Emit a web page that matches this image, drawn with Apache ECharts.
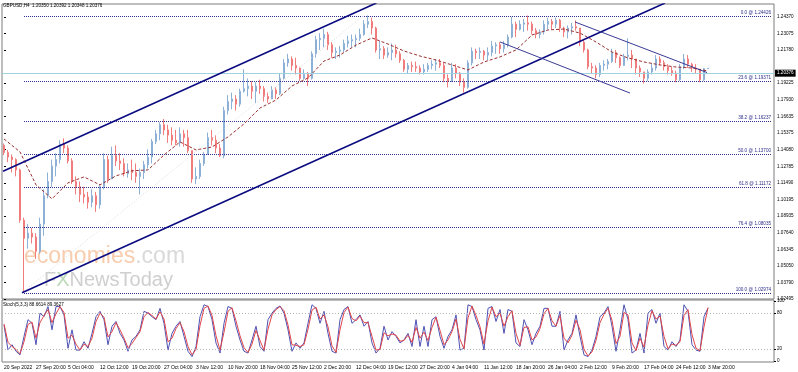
<!DOCTYPE html>
<html><head><meta charset="utf-8">
<script src="https://cdn.jsdelivr.net/npm/echarts@6/dist/echarts.min.js"></script>
<style>html,body{margin:0;padding:0;background:#fff}#c{width:798px;height:372px}</style>
</head><body><div id="c"></div>
<script>
const symbol = 'GBPUSD', timeframe = 'H4';
const firstOpen = 1.1440;
const closes = [1.1385,1.1350,1.1330,1.1250,1.0860,1.0720,1.0760,1.0730,1.0620,1.0830,
1.1050,1.1160,1.1280,1.1330,1.1450,1.1420,1.1320,1.1160,1.1120,1.1060,
1.1040,1.1000,1.1050,1.0980,1.1120,1.1330,1.1180,1.1360,1.1320,1.1300,
1.1220,1.1250,1.1230,1.1200,1.1230,1.1290,1.1350,1.1470,1.1530,1.1600,
1.1560,1.1520,1.1480,1.1460,1.1530,1.1500,1.1400,1.1180,1.1200,1.1300,
1.1370,1.1500,1.1480,1.1420,1.1360,1.1710,1.1780,1.1800,1.1760,1.1860,
1.1880,1.1900,1.1860,1.1900,1.1880,1.1820,1.1800,1.1870,1.1840,1.1960,
1.2080,1.2110,1.2060,1.2040,1.1960,1.1990,1.1960,1.2150,1.2260,1.2270,
1.2300,1.2220,1.2160,1.2170,1.2180,1.2230,1.2250,1.2260,1.2270,1.2300,
1.2380,1.2400,1.2350,1.2180,1.2190,1.2140,1.2160,1.2180,1.2150,1.2100,
1.2030,1.2060,1.2050,1.2040,1.2010,1.2030,1.2060,1.2070,1.2080,1.2060,
1.1960,1.1940,1.2040,1.2000,1.1930,1.1890,1.2080,1.2170,1.2160,1.2170,
1.2140,1.2160,1.2210,1.2220,1.2190,1.2220,1.2280,1.2380,1.2340,1.2380,
1.2390,1.2380,1.2330,1.2300,1.2320,1.2380,1.2400,1.2380,1.2410,1.2350,
1.2320,1.2350,1.2360,1.2350,1.2240,1.2180,1.2050,1.2040,1.1990,1.2060,
1.2070,1.2090,1.2160,1.2120,1.2060,1.2130,1.2140,1.2110,1.2040,1.2010,
1.1960,1.2010,1.2040,1.2110,1.2080,1.2050,1.2020,1.2000,1.1950,1.2050,
1.2110,1.2070,1.2040,1.2030,1.1950,1.2035,1.20376];
const highs = [1.1455,1.1405,1.1370,1.1340,1.1260,1.0880,1.0830,1.0800,1.0760,1.0880,
1.1100,1.1230,1.1330,1.1380,1.1480,1.1495,1.1440,1.1340,1.1200,1.1160,
1.1120,1.1080,1.1100,1.1080,1.1140,1.1380,1.1360,1.1430,1.1440,1.1380,
1.1340,1.1300,1.1330,1.1300,1.1260,1.1320,1.1410,1.1490,1.1560,1.1620,
1.1645,1.1600,1.1580,1.1560,1.1580,1.1560,1.1560,1.1400,1.1270,1.1330,
1.1390,1.1540,1.1560,1.1520,1.1450,1.1740,1.1830,1.1850,1.1830,1.1880,
1.2030,1.1960,1.1940,1.1930,1.1950,1.1900,1.1850,1.1900,1.1890,1.2000,
1.2110,1.2150,1.2130,1.2120,1.2050,1.2030,1.2010,1.2170,1.2290,1.2310,
1.2345,1.2320,1.2240,1.2200,1.2210,1.2260,1.2290,1.2300,1.2300,1.2345,
1.2410,1.2447,1.2430,1.2360,1.2250,1.2210,1.2200,1.2230,1.2220,1.2170,
1.2110,1.2080,1.2090,1.2090,1.2060,1.2070,1.2080,1.2100,1.2110,1.2110,
1.2080,1.1990,1.2080,1.2070,1.2010,1.1960,1.2100,1.2200,1.2190,1.2200,
1.2180,1.2200,1.2250,1.2240,1.2240,1.2250,1.2300,1.2436,1.2400,1.2410,
1.2420,1.2447,1.2400,1.2350,1.2340,1.2410,1.2430,1.2420,1.2430,1.2420,
1.2360,1.2370,1.2390,1.2410,1.2350,1.2260,1.2190,1.2080,1.2060,1.2080,
1.2100,1.2110,1.2190,1.2180,1.2130,1.2150,1.2270,1.2180,1.2110,1.2060,
1.2010,1.2030,1.2080,1.2140,1.2130,1.2100,1.2070,1.2050,1.2020,1.2070,
1.2150,1.2140,1.2080,1.2070,1.2030,1.2040,1.20392];
const lows = [1.1365,1.1310,1.1230,1.1200,1.0840,1.0300,1.0640,1.0680,1.0560,1.0600,
1.0740,1.1030,1.1120,1.1200,1.1300,1.1380,1.1300,1.1140,1.1060,1.1000,
1.0990,1.0950,1.0960,1.0925,1.0950,1.1100,1.1150,1.1180,1.1280,1.1250,
1.1200,1.1190,1.1170,1.1150,1.1060,1.1180,1.1260,1.1300,1.1450,1.1480,
1.1520,1.1460,1.1440,1.1440,1.1430,1.1430,1.1380,1.1150,1.1140,1.1180,
1.1280,1.1370,1.1440,1.1380,1.1350,1.1340,1.1680,1.1720,1.1710,1.1740,
1.1850,1.1820,1.1800,1.1770,1.1840,1.1780,1.1770,1.1800,1.1800,1.1830,
1.1950,1.2050,1.2020,1.1990,1.1940,1.1950,1.1900,1.1950,1.2120,1.2180,
1.2200,1.2180,1.2120,1.2110,1.2120,1.2160,1.2200,1.2200,1.2200,1.2250,
1.2290,1.2350,1.2300,1.2160,1.2110,1.2110,1.2120,1.2100,1.2120,1.2080,
1.2010,1.2000,1.2010,1.2010,1.1990,1.1990,1.2010,1.2030,1.2020,1.2040,
1.1930,1.1890,1.1930,1.1960,1.1900,1.1850,1.1880,1.2060,1.2110,1.2110,
1.2100,1.2100,1.2130,1.2150,1.2150,1.2160,1.2200,1.2270,1.2280,1.2330,
1.2320,1.2330,1.2300,1.2270,1.2270,1.2300,1.2340,1.2340,1.2350,1.2320,
1.2280,1.2270,1.2300,1.2330,1.2210,1.2160,1.2030,1.2000,1.1960,1.1970,
1.2020,1.2030,1.2080,1.2080,1.2040,1.2060,1.2100,1.2040,1.1990,1.1970,
1.1920,1.1940,1.1990,1.2020,1.2060,1.2020,1.1990,1.1980,1.1930,1.1940,
1.2030,1.2040,1.2010,1.2000,1.1930,1.1940,1.20348];
// moving average, read every 4th candle
const maValues = [1.1490,1.1390,1.1134,1.1026,1.1150,1.1196,1.1134,1.1204,1.1243,1.1250,
1.1366,1.1467,1.1405,1.1428,1.1506,1.1607,1.1730,1.1792,1.1901,1.1963,
1.2094,1.2141,1.2218,1.2273,1.2226,1.2172,1.2133,1.2102,1.2064,1.2025,
1.2087,1.2126,1.2180,1.2296,1.2335,1.2342,1.2311,1.2242,1.2164,1.2118,
1.2087,1.2064,1.2048,1.2040,1.2017];
const stochMain = [60,18,27,16,10,41,69,63,27,80,
74,91,52,91,91,77,21,52,18,18,
32,21,46,74,83,69,27,58,66,46,
35,16,35,41,52,83,80,74,69,88,
63,18,46,58,66,41,16,7,24,74,
94,91,69,30,13,63,91,88,58,35,
16,13,35,58,24,16,69,80,88,92,
80,52,16,30,21,30,63,94,88,63,
83,46,16,13,69,86,91,63,69,77,
58,66,30,13,21,58,35,49,41,30,
35,46,24,69,24,58,24,69,74,41,
21,41,52,77,18,21,94,91,69,52,
18,88,91,66,86,46,86,83,30,24,
69,52,27,46,58,88,88,58,58,83,
18,35,46,77,41,10,7,18,41,74,
80,91,58,16,52,94,69,13,18,46,
13,80,86,63,80,24,18,32,24,35,
94,83,27,18,16,74,88.6614];
const stochSignal = [62,31,24,19,12,32,61,65,38,64,
76,86,64,79,91,81,38,43,28,18,
28,24,38,66,80,73,40,49,64,52,
38,22,29,39,49,74,81,76,70,82,
70,32,38,54,64,49,24,10,19,59,
88,92,76,42,18,48,83,89,67,42,
22,14,28,51,34,18,53,77,86,91,
84,60,27,26,24,27,53,85,90,70,
77,57,25,14,52,81,90,71,67,75,
64,64,41,18,19,47,42,45,43,33,
34,43,31,56,38,48,34,56,73,51,
27,35,49,70,36,20,72,92,76,57,
28,67,90,74,80,58,74,84,46,26,
56,57,35,40,54,79,88,67,58,76,
38,30,43,68,52,19,8,15,34,64,
78,88,68,29,41,81,77,30,17,38,
23,60,84,70,75,41,20,28,26,32,
76,86,44,21,17,57,89.3627];
const timeLabels = ['20 Sep 2022','27 Sep 20:00','5 Oct 04:00','12 Oct 12:00','19 Oct 20:00','27 Oct 04:00','3 Nov 12:00','10 Nov 20:00','18 Nov 04:00','25 Nov 12:00','2 Dec 20:00','12 Dec 04:00','19 Dec 12:00','27 Dec 20:00','4 Jan 04:00','11 Jan 12:00','18 Jan 20:00','26 Jan 04:00','2 Feb 12:00','9 Feb 20:00','17 Feb 04:00','24 Feb 12:00','3 Mar 20:00'];
const priceTicks = [1.24370,1.23075,1.21780,1.19225,1.17930,1.16635,1.15375,1.14080,1.12785,1.11490,1.10195,1.08935,1.07640,1.06345,1.05050,1.03790,1.02495];
const stochTicks = [100,80,20,0];
const stochLevels = [80,20];
const fibLevels = [0.0,23.6,38.2,50.0,61.8,76.4,100.0];
const fibPrices = [1.24426,1.19371,1.16237,1.13700,1.11172,1.08035,1.02974];
// drawn objects: [candle index, price] anchors
const fibAnchorIndex = 5;
const channelUpper = [[-0.25,1.1240],[93.1,1.2544]];
const channelLower = [[4.5,1.0298],[165.25,1.2544]];
const descUpper = [[142.75,1.2397],[175.75,1.2005]];
const descLower = [[124.0,1.2242],[156.5,1.1846]];
const fibDiagonal = [[4.5,1.02974],[89.75,1.24426]];

const FONT = 'Liberation Sans';
const FS = 4.6;
const slotCount = 193;
const N = closes.length;
const opens = closes.map((c,i)=> i===0 ? firstOpen : closes[i-1]);
const candleData = closes.map((c,i)=>[opens[i], c, lows[i], highs[i]]);
const cats = Array.from({length:slotCount},(_,i)=> (i%8===0 && i/8 < timeLabels.length) ? timeLabels[i/8] : '');
const last = N-1;
const fmt5 = v=>v.toFixed(5);
const titleText = symbol+','+timeframe+'  '+fmt5(opens[last])+' '+fmt5(highs[last])+' '+fmt5(lows[last])+' '+fmt5(closes[last]);
const stochText = 'Stoch(5,3,3) '+stochMain[last].toFixed(4)+' '+stochSignal[last].toFixed(4);
const fibColor = '#2e2e8c';
const fibData = fibPrices.map((p,k)=>[
  {coord:[fibAnchorIndex,p], lineStyle:{color:fibColor,type:[1,1],width:1},
   label:{show:true,position:'insideEndTop',distance:1,color:fibColor,fontSize:FS,fontFamily:FONT,
          formatter: fibLevels[k].toFixed(1)+' @ '+fmt5(p)}},
  {coord:[slotCount-1,p]}
]);
const priceLine = {yAxis: closes[last], lineStyle:{color:'#9fd3e0',type:'solid',width:1},
  label:{show:true,position:'end',distance:1,formatter:fmt5(closes[last]),color:'#fff',backgroundColor:'#000',
         padding:[1,2,1,2],fontSize:FS,fontFamily:FONT}};

function seg(pts,color,width,type){
  return {type:'line',xAxisIndex:2,yAxisIndex:0,data:pts,symbol:'none',showSymbol:false,silent:true,
    lineStyle:{color:color,width:width,type:type||'solid'},z:6,clip:true};
}

const chart = echarts.init(document.getElementById('c'), null, {renderer:'canvas',width:798,height:372});
chart.setOption({
  animation:false,
  backgroundColor:'#fff',
  textStyle:{fontFamily:FONT},
  grid:[
    {left:2,top:4,width:772,height:295,show:true,borderColor:'#7d7d7d',borderWidth:1,containLabel:false,outerBoundsMode:'none'},
    {left:2,top:300,width:772,height:62,show:true,borderColor:'#7d7d7d',borderWidth:1,containLabel:false,outerBoundsMode:'none'}
  ],
  xAxis:[
    {type:'category',gridIndex:0,data:cats,boundaryGap:true,axisLine:{show:false},axisTick:{show:false},axisLabel:{show:false},splitLine:{show:false}},
    {type:'category',gridIndex:1,data:cats,boundaryGap:true,axisLine:{show:false},axisTick:{show:false},splitLine:{show:false},
      axisLabel:{show:true,interval:0,align:'left',fontSize:FS+0.4,color:'#000',margin:3,fontFamily:FONT}},
    {type:'value',gridIndex:0,min:-0.5,max:slotCount-0.5,show:false}
  ],
  yAxis:[
    {type:'value',gridIndex:0,position:'right',min:1.02495,max:1.25363,
      axisLine:{show:false},splitLine:{show:false},
      axisTick:{show:true,length:2,inside:false,customValues:priceTicks,lineStyle:{color:'#000'}},
      axisLabel:{show:true,customValues:priceTicks,formatter:v=>fmt5(v),fontSize:FS,color:'#000',margin:3,fontFamily:FONT}},
    {type:'value',gridIndex:1,position:'right',min:-2,max:102,
      axisLine:{show:false},splitLine:{show:false},
      axisTick:{show:true,length:2,customValues:stochTicks,lineStyle:{color:'#000'}},
      axisLabel:{show:true,customValues:stochTicks,fontSize:FS,color:'#000',margin:3,fontFamily:FONT}}
  ],
  graphic:[
    {type:'text',left:3,top:3,z:10,style:{text:titleText,font:FS+'px '+FONT,fill:'#000'}},
    {type:'text',left:3,top:302,z:10,style:{text:stochText,font:FS+'px '+FONT,fill:'#000'}},
    {type:'text',x:24,y:268,z:0,silent:true,style:{text:'{a|economies}{b|.com}',verticalAlign:'bottom',
      rich:{a:{fontSize:23,fontFamily:FONT,fill:'#f8cdae',color:'#f8cdae'},b:{fontSize:23,fontFamily:FONT,fill:'#d9d9d9',color:'#d9d9d9'}}}},
    {type:'text',x:44,y:290,z:0,silent:true,style:{text:'{a|F}{x|X}{a|NewsToday}',verticalAlign:'bottom',
      rich:{a:{fontSize:20,fontFamily:FONT,fill:'#cfcfcf',color:'#cfcfcf'},x:{fontSize:20,fontFamily:FONT,fill:'#bcdab7',color:'#bcdab7'}}}}
  ],
  series:[
    {type:'candlestick',xAxisIndex:0,yAxisIndex:0,data:candleData,barWidth:1.5,z:3,
      itemStyle:{color:'#8db0d6',color0:'#f07c7c',borderColor:'#8db0d6',borderColor0:'#f07c7c',borderWidth:1},
      markLine:{silent:true,symbol:['none','none'],animation:false,data:[...fibData, priceLine]}},
    seg(fibDiagonal,'#dadada',1,[1,2]),
    {type:'line',xAxisIndex:2,yAxisIndex:0,data:maValues.map((v,k)=>[k*4,v]),symbol:'none',showSymbol:false,silent:true,z:5,
      lineStyle:{color:'#9a2e2e',width:1,type:[3,2]}},
    seg(channelUpper,'#0a0a80',1.6),
    seg(channelLower,'#0a0a80',1.6),
    seg(descUpper,'#3a3a96',1),
    seg(descLower,'#3a3a96',1),
    {type:'line',xAxisIndex:1,yAxisIndex:1,data:stochMain,symbol:'none',showSymbol:false,silent:true,z:4,
      lineStyle:{color:'#4f52b4',width:1},
      markLine:{silent:true,symbol:['none','none'],label:{show:false},
        lineStyle:{color:'#b5b5b5',type:[1,2],width:1},data:stochLevels.map(v=>({yAxis:v}))}},
    {type:'line',xAxisIndex:1,yAxisIndex:1,data:stochSignal,symbol:'none',showSymbol:false,silent:true,z:5,
      lineStyle:{color:'#e0464a',width:1}}
  ]
});
</script></body></html>
